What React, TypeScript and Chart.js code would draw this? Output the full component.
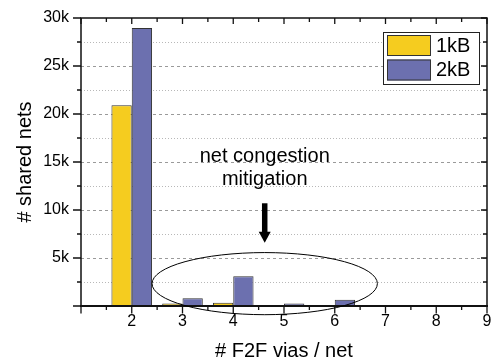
import React, { useEffect, useRef } from 'react';
import { Chart, registerables } from 'chart.js';

Chart.register(...registerables);

// ---- data ----
const viasPerNet = [2, 3, 4, 5, 6, 7, 8];
const nets1kB = [20900, 250, 350, 0, 0, 0, 0];
const nets2kB = [28950, 800, 3100, 250, 650, 0, 100];
const seriesLabels = ['1kB', '2kB'];
const seriesColors = ['#F5CC1F', '#6C70AF'];
const xTitle = '# F2F vias / net';
const yTitle = '# shared nets';
const annotationLines = ['net congestion', 'mitigation'];

// annotation anchors in data units
const annotX = 4.62;
const annotTextY = [15050, 12650];
const arrowFromY = 10700;
const arrowToY = 6600;
const ellipseCenterY = 2330;
const ellipseHalfWidth = 2.22;
const ellipseHalfHeight = 3235;

const FONT = '"Liberation Sans", Arial, Helvetica, sans-serif';

const decorPlugin = {
  id: 'decor',
  beforeDatasetsDraw(chart: any) {
    const { ctx, chartArea: a, scales } = chart;
    const y = scales.y;
    ctx.save();
    for (let v = 2500; v < 30000; v += 2500) {
      const py = Math.round(y.getPixelForValue(v)) + 0.5;
      const major = v % 5000 === 0;
      ctx.setLineDash(major ? [3, 3] : [1, 2]);
      ctx.strokeStyle = major ? '#9a9a9a' : '#b8b8b8';
      ctx.lineWidth = 1;
      ctx.beginPath();
      ctx.moveTo(a.left, py);
      ctx.lineTo(a.right, py);
      ctx.stroke();
    }
    ctx.restore();
  },
  afterDatasetsDraw(chart: any) {
    const { ctx, chartArea: a, scales } = chart;
    const x = scales.x;
    const y = scales.y;
    ctx.save();
    ctx.setLineDash([]);
    ctx.strokeStyle = '#111';
    // frame
    ctx.lineWidth = 1.5;
    ctx.beginPath();
    ctx.moveTo(a.left, a.bottom);
    ctx.lineTo(a.left, a.top);
    ctx.lineTo(a.right, a.top);
    ctx.lineTo(a.right, a.bottom);
    ctx.stroke();
    ctx.lineWidth = 2.2;
    ctx.beginPath();
    ctx.moveTo(a.left - 1, a.bottom);
    ctx.lineTo(a.right + 1, a.bottom);
    ctx.stroke();
    // y ticks
    ctx.lineWidth = 1.3;
    for (let v = 0; v <= 30000; v += 2500) {
      const py = y.getPixelForValue(v);
      const major = v % 5000 === 0;
      ctx.beginPath();
      ctx.moveTo(a.left - (major ? 8 : 4), py);
      ctx.lineTo(a.left, py);
      ctx.moveTo(a.right - (major ? 6 : 4), py);
      ctx.lineTo(a.right, py);
      ctx.stroke();
    }
    // x ticks
    for (let v = 1; v <= 9; v += 0.5) {
      const px = x.getPixelForValue(v);
      const major = Number.isInteger(v);
      ctx.beginPath();
      ctx.moveTo(px, a.bottom);
      ctx.lineTo(px, a.bottom + (major ? 7.5 : 4));
      ctx.moveTo(px, a.top);
      ctx.lineTo(px, a.top + (major ? 6 : 4));
      ctx.stroke();
    }

    // ellipse
    const cx = x.getPixelForValue(annotX);
    const cy = y.getPixelForValue(ellipseCenterY);
    const rx = Math.abs(x.getPixelForValue(annotX + ellipseHalfWidth) - cx);
    const ry = Math.abs(y.getPixelForValue(ellipseCenterY + ellipseHalfHeight) - cy);
    ctx.lineWidth = 1;
    ctx.strokeStyle = '#000';
    ctx.beginPath();
    ctx.ellipse(cx, cy, rx, ry, 0, 0, Math.PI * 2);
    ctx.stroke();

    // arrow
    const ay0 = y.getPixelForValue(arrowFromY);
    const ay1 = y.getPixelForValue(arrowToY);
    const headLen = 11;
    ctx.fillStyle = '#000';
    ctx.fillRect(cx - 2.75, ay0, 5.5, ay1 - ay0 - headLen + 1);
    ctx.beginPath();
    ctx.moveTo(cx - 6, ay1 - headLen);
    ctx.lineTo(cx + 6, ay1 - headLen);
    ctx.lineTo(cx, ay1);
    ctx.closePath();
    ctx.fill();

    // annotation text
    ctx.font = `20px ${FONT}`;
    ctx.textAlign = 'center';
    ctx.textBaseline = 'alphabetic';
    annotationLines.forEach((t, i) => {
      ctx.fillText(t, cx, y.getPixelForValue(annotTextY[i]));
    });

    // legend
    const bw = 96;
    const bh = 52;
    const bx = a.right - 104;
    const by = a.top + 14;
    ctx.fillStyle = '#fff';
    ctx.fillRect(bx, by, bw, bh);
    ctx.lineWidth = 1;
    ctx.strokeStyle = '#222';
    ctx.strokeRect(bx + 0.5, by + 0.5, bw, bh);
    chart.data.datasets.forEach((ds: any, i: number) => {
      const sy = by + 3 + i * 24.5;
      ctx.fillStyle = ds.backgroundColor;
      ctx.fillRect(bx + 4, sy, 44, 21);
      ctx.strokeStyle = '#333';
      ctx.strokeRect(bx + 4.5, sy + 0.5, 43, 20);
      ctx.fillStyle = '#000';
      ctx.font = `20px ${FONT}`;
      ctx.textAlign = 'left';
      ctx.textBaseline = 'middle';
      ctx.fillText(ds.label, bx + 53, sy + 11);
    });
    ctx.restore();
  },
};

export default function App() {
  const canvasRef = useRef<HTMLCanvasElement | null>(null);

  useEffect(() => {
    document.body.style.margin = '0';
    const canvas = canvasRef.current;
    if (!canvas) return;
    const mk = (vals: number[]) => viasPerNet.map((v, i) => ({ x: v, y: vals[i] }));
    const chart = new Chart(canvas, {
      type: 'bar',
      data: {
        datasets: [
          {
            label: seriesLabels[0],
            data: mk(nets1kB),
            backgroundColor: seriesColors[0],
            borderColor: '#333',
            borderWidth: 1,
            borderSkipped: false,
            categoryPercentage: 0.8,
            barPercentage: 1,
          },
          {
            label: seriesLabels[1],
            data: mk(nets2kB),
            backgroundColor: seriesColors[1],
            borderColor: '#333',
            borderWidth: 1,
            borderSkipped: false,
            categoryPercentage: 0.8,
            barPercentage: 1,
          },
        ],
      },
      options: {
        responsive: false,
        animation: false,
        devicePixelRatio: 1,
        layout: { padding: { top: 18, right: 4, left: 0, bottom: 0 } },
        plugins: { legend: { display: false }, tooltip: { enabled: false } },
        scales: {
          x: {
            type: 'linear',
            min: 1,
            max: 9,
            offset: false,
            grid: { display: false, drawTicks: false },
            border: { display: false },
            ticks: {
              stepSize: 1,
              padding: 6,
              color: '#000',
              font: { family: FONT, size: 16 },
              callback: (v: any) => (v === 1 ? '' : String(v)),
            },
            title: {
              display: true,
              text: xTitle,
              color: '#000',
              font: { family: FONT, size: 20 },
              padding: { top: 0, bottom: -5 },
            },
            afterFit: (s: any) => {
              s.height = 52;
              s.paddingLeft = 0;
              s.paddingRight = 0;
            },
          },
          y: {
            min: 0,
            max: 30000,
            grid: { display: false, drawTicks: false },
            border: { display: false },
            ticks: {
              stepSize: 5000,
              padding: 12,
              color: '#000',
              font: { family: FONT, size: 16 },
              callback: (v: any) => (v === 0 ? '' : `${v / 1000}k`),
            },
            title: {
              display: true,
              text: yTitle,
              color: '#000',
              font: { family: FONT, size: 20 },
              padding: { top: 13, bottom: 0 },
            },
            afterFit: (s: any) => {
              s.width = 81;
              s.paddingTop = 0;
              s.paddingBottom = 0;
            },
          },
        },
      },
      plugins: [decorPlugin],
    } as any);
    return () => chart.destroy();
  }, []);

  return (
    <div style={{ width: 491, height: 358 }}>
      <canvas ref={canvasRef} width={491} height={358} />
    </div>
  );
}
